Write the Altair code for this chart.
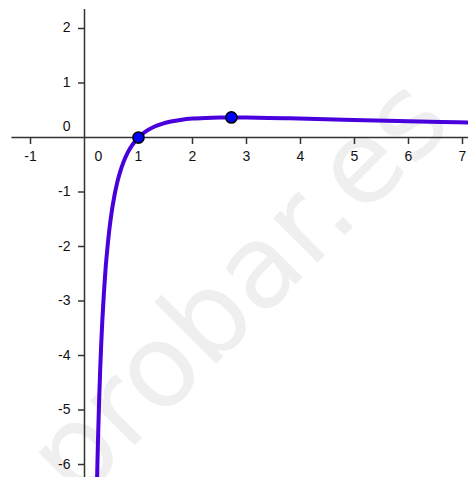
import altair as alt
import pandas as pd

# curve values
curve_x = [0.22, 0.23, 0.24, 0.25, 0.27, 0.29, 0.31, 0.33, 0.36, 0.39, 0.42, 0.46, 0.5, 0.55,
           0.6, 0.66, 0.72, 0.8, 0.88, 0.96, 1.05, 1.15, 1.3, 1.45, 1.6, 1.8, 2.0, 2.25, 2.5,
           2.72, 3.0, 3.4, 3.8, 4.3, 4.8, 5.4, 6.0, 6.6, 7.1, 7.21]
curve_y = [-6.88, -6.39, -5.95, -5.55, -4.85, -4.27, -3.78, -3.36, -2.84, -2.41, -2.07, -1.69,
           -1.39, -1.09, -0.85, -0.63, -0.456, -0.279, -0.145, -0.043, 0.047, 0.122, 0.202,
           0.256, 0.294, 0.327, 0.347, 0.360, 0.367, 0.368, 0.366, 0.360, 0.351, 0.339, 0.327,
           0.312, 0.299, 0.286, 0.276, 0.274]

# marked points
point_x = [1.0, 2.72]
point_y = [0.0, 0.368]

# axis ticks
x_ticks = [-1, 1, 2, 3, 4, 5, 6, 7]
y_ticks = [2, 1, -1, -2, -3, -4, -5, -6]
watermark = "probar.es"

XMIN, XMAX = -1.4167, 7.1019
YMIN, YMAX = -6.229, 2.376
xs = alt.Scale(domain=[XMIN, XMAX], nice=False, zero=False)
ys = alt.Scale(domain=[YMIN, YMAX], nice=False, zero=False)

AX = "#333333"
FONT = "Liberation Sans"
FS = 14
TXT = "#111111"

curve = pd.DataFrame({"x": curve_x, "y": curve_y})
pts = pd.DataFrame({"x": point_x, "y": point_y})
xt = pd.DataFrame({"x": x_ticks, "y": [0] * len(x_ticks), "lab": [str(v) for v in x_ticks]})
yt = pd.DataFrame({"y": y_ticks, "x": [0] * len(y_ticks), "lab": [str(v) for v in y_ticks]})
wm = pd.DataFrame({"x": [3.343], "y": [-3.257], "t": [watermark]})
origin = pd.DataFrame({"x": [0], "y": [0], "lab": ["0"]})


def X(f):
    return alt.X(f, scale=xs, axis=None)


def Y(f):
    return alt.Y(f, scale=ys, axis=None)


wm_layer = alt.Chart(wm).mark_text(
    angle=315, font="DejaVu Sans", fontSize=115, color="#efefef",
    align="center", baseline="alphabetic"
).encode(x=X("x:Q"), y=Y("y:Q"), text="t:N")

x_axis = alt.Chart(origin).mark_rule(color=AX, strokeWidth=1.5).encode(
    x=alt.X(datum=-1.354, scale=xs, axis=None), x2=alt.datum(XMAX),
    y=Y("y:Q"))
y_axis = alt.Chart(origin).mark_rule(color=AX, strokeWidth=1.5).encode(
    y=alt.Y(datum=2.358, scale=ys, axis=None), y2=alt.datum(YMIN),
    x=X("x:Q"))

x_tick = alt.Chart(xt).mark_rule(color=AX, strokeWidth=1.5).encode(
    x=X("x:Q"), y=Y("y:Q"), y2=alt.datum(-0.12))
y_tick = alt.Chart(yt).mark_rule(color=AX, strokeWidth=1.5).encode(
    y=Y("y:Q"), x=X("x:Q"), x2=alt.datum(-0.12))

x_lab = alt.Chart(xt).mark_text(font=FONT, fontSize=FS, color=TXT, dy=20,
                                align="center", baseline="middle").encode(
    x=X("x:Q"), y=Y("y:Q"), text="lab:N")
y_lab = alt.Chart(yt).mark_text(font=FONT, fontSize=FS, color=TXT, dx=-14,
                                align="right", baseline="middle").encode(
    x=X("x:Q"), y=Y("y:Q"), text="lab:N")
zero_x = alt.Chart(origin).mark_text(font=FONT, fontSize=FS, color=TXT, dx=14, dy=20,
                                     align="center", baseline="middle").encode(
    x=X("x:Q"), y=Y("y:Q"), text="lab:N")
zero_y = alt.Chart(origin).mark_text(font=FONT, fontSize=FS, color=TXT, dx=-14, dy=-10,
                                     align="right", baseline="middle").encode(
    x=X("x:Q"), y=Y("y:Q"), text="lab:N")

line = alt.Chart(curve).mark_line(color="#4800dc", strokeWidth=4, interpolate="monotone",
                                  clip=True).encode(x=X("x:Q"), y=Y("y:Q"))

points = alt.Chart(pts).mark_point(filled=True, fill="#0000ff", stroke="#000000",
                                   strokeWidth=1.5, size=125, opacity=1).encode(
    x=X("x:Q"), y=Y("y:Q"))

chart = alt.layer(wm_layer, x_axis, y_axis, x_tick, y_tick, x_lab, y_lab, zero_x, zero_y,
                  line, points).properties(
    width=460, height=469, padding=0, autosize=alt.AutoSizeParams(type="none"),
    background="white"
).configure_view(stroke=None)

chart.save("out.html", embed_options={"renderer": "svg", "actions": False})
